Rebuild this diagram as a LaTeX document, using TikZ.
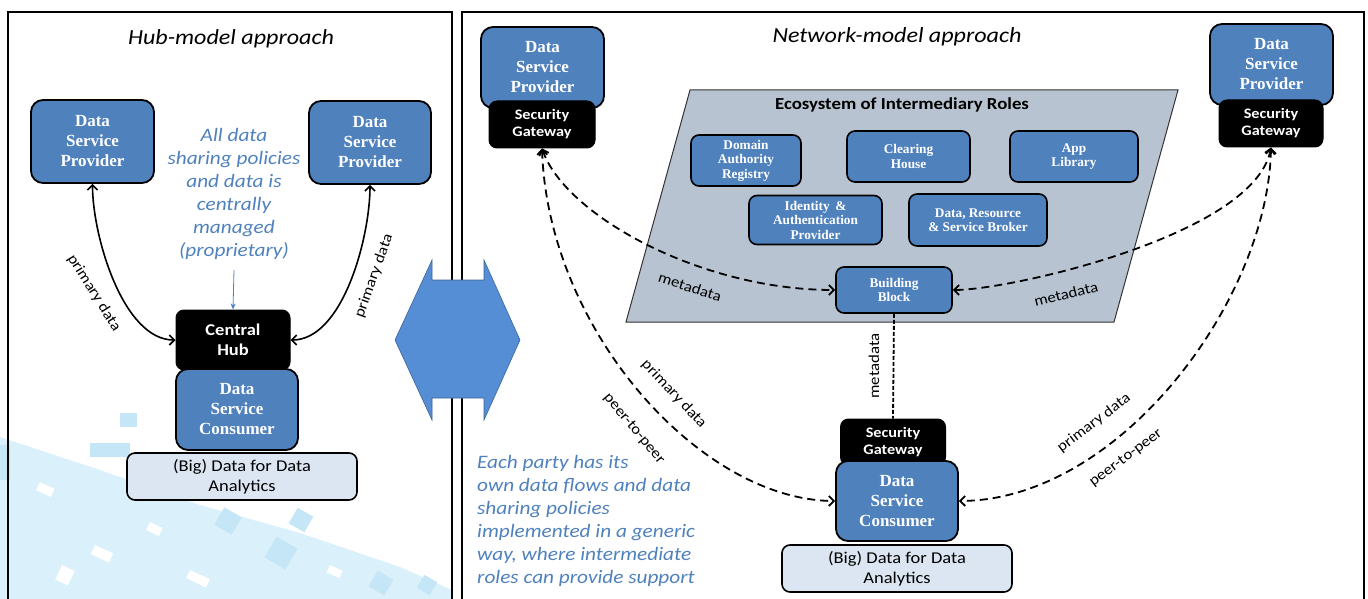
\documentclass[tikz,border=0pt]{standalone}
\usepackage{fontspec}
\setmainfont{Liberation Serif}
\newfontfamily\calib[FakeStretch=1.12]{Carlito}
\usetikzlibrary{arrows.meta}
\definecolor{boxblue}{HTML}{4F81BD}
\definecolor{notetxt}{HTML}{4F81BD}
\definecolor{ecogray}{HTML}{B8C3D1}
\definecolor{bigfill}{HTML}{DCE6F2}
\definecolor{hexblue}{HTML}{558ED5}
\definecolor{wmlight}{HTML}{DAF0FA}
\definecolor{wmtile}{HTML}{C4E6F6}
\newcommand\dspf{\fontsize{17}{20}\selectfont\bfseries}
\newcommand\smallbf{\fontsize{13.3}{14.5}\selectfont\bfseries}
\begin{document}
\begin{tikzpicture}[x=1pt,y=-1pt,
  >={Straight Barb[length=5pt,width=10pt]},
  dsp/.style={draw=black,line width=1.8pt,rounded corners=12pt,fill=boxblue,text=white,font=\dspf,align=center,inner sep=0pt},
  gate/.style={draw=black,line width=1pt,rounded corners=8pt,fill=black,text=white,font=\calib\fontsize{14.5}{17}\selectfont\bfseries,align=center,inner sep=0pt},
  role/.style={draw=black,line width=1.6pt,rounded corners=8pt,fill=boxblue,text=white,font=\smallbf,align=center,inner sep=0pt},
  bigdata/.style={draw=black,line width=1.6pt,rounded corners=8pt,fill=bigfill,text=black,font=\calib\fontsize{16.5}{20}\selectfont,align=center,inner sep=0pt},
  solidarr/.style={line width=1.6pt,<->},
  dasharr/.style={line width=1.8pt,dash pattern=on 8pt off 5pt,<->},
  lbl/.style={font=\calib\fontsize{15}{17}\selectfont,inner sep=0pt},
  note/.style={font=\calib\itshape\fontsize{19}{23}\selectfont,text=notetxt,inner sep=0pt},
  ttl/.style={font=\calib\itshape\fontsize{21.5}{24}\selectfont,inner sep=0pt}]
\useasboundingbox (0,0) rectangle (1368,599);
% watermark (faint background pattern)
\fill[wmlight] (0,437) -- (100,470) -- (200,505) -- (300,533) -- (400,567) -- (452,590) -- (452,599) -- (0,599) -- cycle;
\foreach \x/\y/\w/\h in {40/482/16/9, 95/545/20/10, 150/522/14/9, 62/565/14/16, 190/570/22/9, 330/565/14/8}
  \fill[white,rotate around={-25:(\x,\y)}] (\x,\y) rectangle ++(\w,\h);
\fill[wmtile] (120,413) rectangle (137,427);
\fill[wmtile] (90,443) rectangle (130,457);
\fill[wmtile] (0,445) rectangle (10,480);
\foreach \x/\y/\s in {228/521/20, 301/520/18, 281/553/24, 381/583/18, 427/585/15, 150/470/14}
  \fill[wmtile,rotate around={-30:(\x,\y)}] (\x-\s/2,\y-\s/2) rectangle ++(\s,\s);
% panels
\draw[line width=1.2pt] (8,599) -- (8,12) -- (452,12) -- (452,599);
\draw[line width=1.2pt] (462,599) -- (462,12) -- (1364,12) -- (1364,599);
% double arrow shape
\draw[fill=hexblue,draw=hexblue!70!black,line width=0.6pt] (395,340) -- (432,260) -- (432,280) -- (484,280) -- (484,260) -- (520,340) -- (484,420) -- (484,398) -- (432,398) -- (432,420) -- cycle;
% titles
\node[ttl] (t1) at (231,39) {Hub-model approach};
\node[ttl] (t2) at (897,37) {Network-model approach};
% ---------------- hub model
\node[dsp,minimum width=123pt,minimum height=83pt] (ldsp) at (92.5,141.5) {Data\\Service\\Provider};
\node[dsp,minimum width=122pt,minimum height=83pt] (rdsp) at (370,142.5) {Data\\Service\\Provider};
\node[note,align=center] (hubnote) at (234,194) {All data\\sharing policies\\and data is\\centrally\\managed\\(proprietary)};
\node[gate,minimum width=114pt,minimum height=60pt,font=\calib\fontsize{16.5}{20}\selectfont\bfseries] (hub) at (233,340) {Central\\Hub};
\node[dsp,minimum width=122pt,minimum height=81pt] (hdsc) at (237,409.5) {Data\\Service\\Consumer};
\node[bigdata,minimum width=230pt,minimum height=47pt] (hbig) at (242,476.5) {(Big) Data for Data\\Analytics};
\draw[notetxt,line width=0.8pt,-{Stealth[length=6pt,width=5pt]}] (234,270) -- (hub.north);
\draw[solidarr] (ldsp.south) .. controls (92.5,236) and (123,340) .. (hub.west);
\draw[solidarr] (rdsp.south) .. controls (370,237) and (343,340) .. (hub.east);
\node[lbl,rotate=-58] (lp1) at (94,293) {primary data};
\node[lbl,rotate=70] (lp2) at (374,276) {primary data};
% ---------------- network model
\draw[fill=ecogray,draw=black!80,line width=1pt] (690,90) -- (1178,90) -- (1114,322) -- (626,322) -- cycle;
\node[font=\calib\fontsize{16.8}{18}\selectfont\bfseries,inner sep=0pt] (ecot) at (902,105) {Ecosystem of Intermediary Roles};
\node[role,minimum width=110pt,minimum height=51pt] (dar) at (746,160.5) {Domain\\Authority\\Registry};
\node[role,minimum width=123pt,minimum height=51pt] (ch) at (908.5,156.5) {Clearing\\House};
\node[role,minimum width=128pt,minimum height=51pt] (app) at (1074,156.5) {App\\Library};
\node[role,minimum width=133pt,minimum height=49pt] (iap) at (815.5,220) {Identity \,\&\\Authentication\\Provider};
\node[role,minimum width=138pt,minimum height=52pt] (drsb) at (978,220) {Data, Resource\\\& Service Broker};
\node[role,minimum width=116pt,minimum height=46pt] (bb) at (894,290) {Building\\Block};
\node[dsp,minimum width=123pt,minimum height=81pt] (ndsp1) at (542.5,67.5) {Data\\Service\\Provider};
\node[gate,minimum width=106pt,minimum height=47pt] (nsg1) at (542,124.5) {Security\\Gateway};
\node[dsp,minimum width=123pt,minimum height=81pt] (ndsp2) at (1271.5,64.5) {Data\\Service\\Provider};
\node[gate,minimum width=104pt,minimum height=47pt] (nsg2) at (1271,123.5) {Security\\Gateway};
\node[gate,minimum width=105pt,minimum height=46pt] (nsg3) at (893,442) {Security\\Gateway};
\node[dsp,minimum width=122pt,minimum height=80pt] (ndsc) at (897,501) {Data\\Service\\Consumer};
\node[bigdata,minimum width=230pt,minimum height=47pt] (nbig) at (897,568.5) {(Big) Data for Data\\Analytics};
% connectors
\draw[dasharr] (nsg1.south) .. controls (565,215) and (700,290) .. (bb.west);
\draw[dasharr] (nsg2.south) .. controls (1255,235) and (1010,290) .. (bb.east);
\draw[dasharr] (nsg1.south) .. controls (548,330) and (700,500) .. (ndsc.west);
\draw[dasharr] (nsg2.south) .. controls (1268,300) and (1120,500) .. (ndsc.east);
\draw[line width=1.8pt,dash pattern=on 4pt off 2pt] (bb.south) -- (nsg3.north);
\node[lbl,rotate=-18] (m1) at (690,287) {metadata};
\node[lbl,rotate=14] (m2) at (1066,294) {metadata};
\node[lbl,rotate=90] (m3) at (874,366) {metadata};
\node[lbl,rotate=-47] (p1) at (674,394) {primary data};
\node[lbl,rotate=-50] (q1) at (634,429) {peer-to-peer};
\node[lbl,rotate=37] (p2) at (1094,423) {primary data};
\node[lbl,rotate=37] (q2) at (1126,458) {peer-to-peer};
\node[note,align=left,anchor=north west] (netnote) at (477,455) {Each party has its\\own data flows and data\\sharing policies\\implemented in a generic\\way, where intermediate\\roles can provide support};
\end{tikzpicture}
\end{document}
